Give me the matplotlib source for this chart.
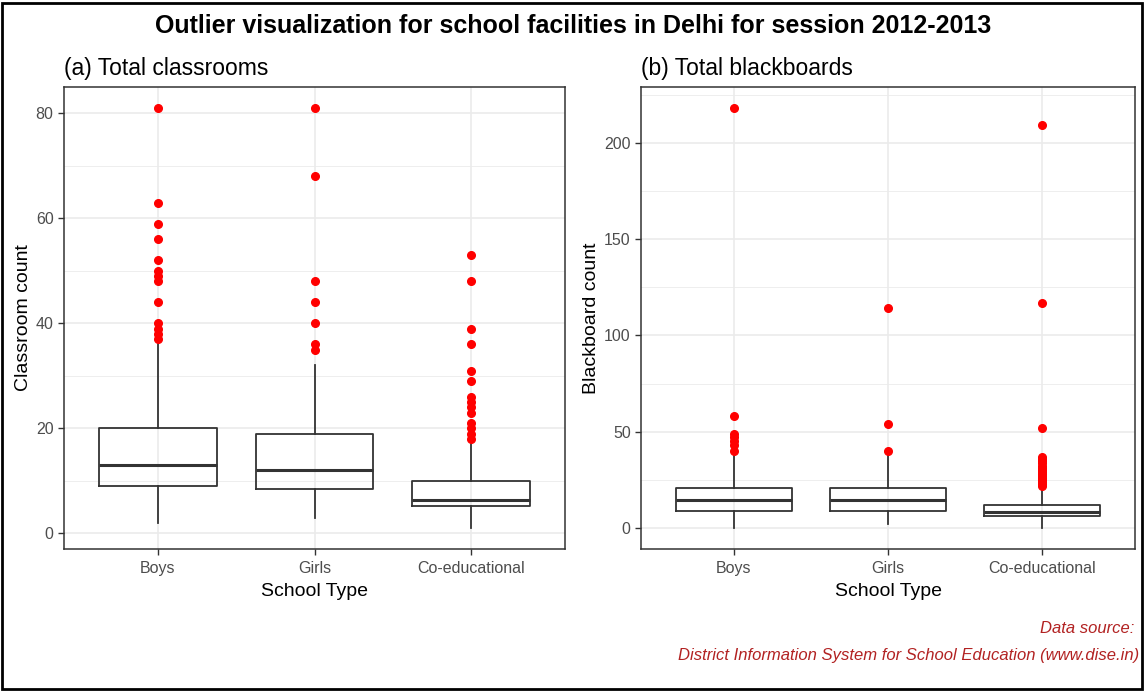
import matplotlib.pyplot as plt
from matplotlib.patches import Rectangle

plt.rcParams['font.family'] = ['Liberation Sans', 'DejaVu Sans']

school_types = ["Boys", "Girls", "Co-educational"]

# (a) classrooms - box stats
cls_whislo = [2, 3, 1]
cls_q1 = [9, 8.5, 5.2]
cls_med = [13, 12, 6.3]
cls_q3 = [20, 19, 10]
cls_whishi = [36, 32, 17]
cls_out = [
    [81, 63, 59, 56, 52, 50, 49, 48, 44, 40, 39, 38, 37],
    [81, 68, 48, 44, 40, 36, 35],
    [53, 48, 39, 36, 31, 29, 26, 25, 24, 23, 21, 20, 19, 18],
]

# (b) blackboards
bb_whislo = [0, 2, 0]
bb_q1 = [9, 9, 6]
bb_med = [14.5, 14.5, 8.3]
bb_q3 = [21, 21, 12]
bb_whishi = [39, 38, 21]
bb_out = [
    [218, 58, 49, 47, 45, 43, 40],
    [114, 54, 40],
    [209, 117, 52, 37, 36, 35, 34, 32, 31, 30, 29, 28, 27, 26, 25, 24, 23, 22],
]

fig = plt.figure(figsize=(11.47, 6.91), dpi=100)

ax1 = fig.add_axes([0.0558, 0.2055, 0.4368, 0.6685])
ax2 = fig.add_axes([0.5589, 0.2055, 0.4306, 0.6685])


def make_stats(lo, q1, med, q3, hi, out):
    stats = []
    for i in range(len(school_types)):
        stats.append(dict(whislo=lo[i], q1=q1[i], med=med[i], q3=q3[i],
                          whishi=hi[i], fliers=out[i], label=school_types[i]))
    return stats


def draw(ax, stats, ylim, major, minor, ylabel, subtitle):
    for y in minor:
        ax.axhline(y, color='#ebebeb', lw=0.6, zorder=0)
    for y in major:
        ax.axhline(y, color='#ebebeb', lw=1.2, zorder=0)
    for x in range(1, 4):
        ax.axvline(x, color='#ebebeb', lw=1.2, zorder=0)
    ax.bxp(stats, positions=[1, 2, 3], widths=0.75, showcaps=False,
           boxprops=dict(color='#333333', lw=1.3),
           whiskerprops=dict(color='#333333', lw=1.3),
           medianprops=dict(color='#333333', lw=2.2),
           flierprops=dict(marker='o', markerfacecolor='red', markeredgecolor='red',
                           markersize=5.5, linestyle='none'))
    ax.set_xlim(0.4, 3.6)
    ax.set_ylim(*ylim)
    ax.set_yticks(major)
    ax.set_xticks([1, 2, 3])
    ax.set_xticklabels(school_types)
    ax.tick_params(colors='#333333', labelcolor='#4d4d4d', labelsize=11.5, length=4, width=1)
    ax.tick_params(axis='x', pad=5)
    for s in ax.spines.values():
        s.set_color('#333333')
        s.set_linewidth(1.1)
    ax.set_xlabel("School Type", fontsize=14, color='black', labelpad=5)
    ax.set_ylabel(ylabel, fontsize=14, color='black', labelpad=3)
    ax.set_title(subtitle, loc='left', fontsize=16.5, pad=9)


draw(ax1, make_stats(cls_whislo, cls_q1, cls_med, cls_q3, cls_whishi, cls_out),
     (-3, 85), [0, 20, 40, 60, 80], [10, 30, 50, 70], "Classroom count",
     "(a) Total classrooms")
draw(ax2, make_stats(bb_whislo, bb_q1, bb_med, bb_q3, bb_whishi, bb_out),
     (-10.9, 228.9), [0, 50, 100, 150, 200], [25, 75, 125, 175, 225],
     "Blackboard count", "(b) Total blackboards")

fig.text(0.5, 0.963, "Outlier visualization for school facilities in Delhi for session 2012-2013",
         ha='center', va='center', fontsize=18, fontweight='bold')

fig.text(0.989, 0.09, "Data source:", ha='right', va='center', fontsize=12,
         style='italic', color='#b22222')
fig.text(0.993, 0.051, "District Information System for School Education (www.dise.in)",
         ha='right', va='center', fontsize=12, style='italic', color='#b22222')

fig.patches.append(Rectangle((0.002, 0.003), 0.994, 0.992, transform=fig.transFigure,
                             fill=False, edgecolor='black', lw=2))

fig.savefig("out.png", dpi=100)
